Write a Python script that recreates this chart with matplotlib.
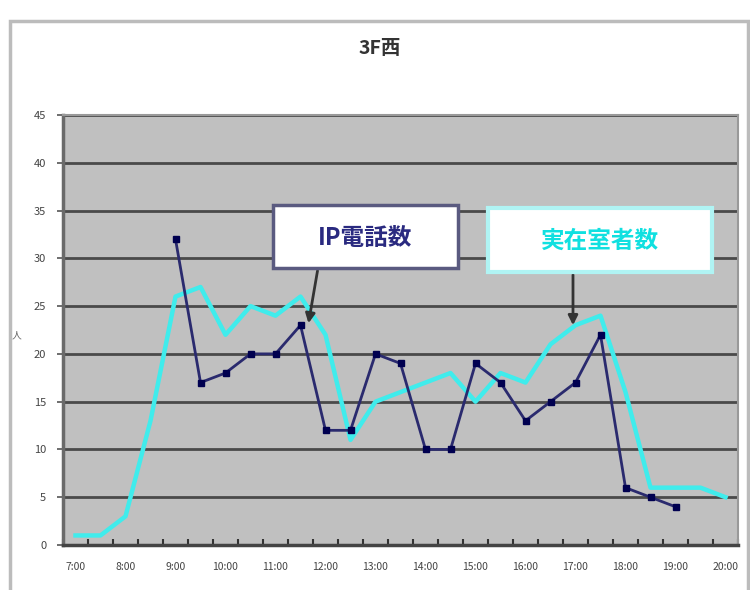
import numpy as np
import matplotlib
matplotlib.use("Agg")
import matplotlib.pyplot as plt
from matplotlib.patches import Rectangle

plt.rcParams['font.family'] = ['Noto Sans CJK JP', 'DejaVu Sans']

times = ["7:00", "7:30", "8:00", "8:30", "9:00", "9:30", "10:00", "10:30", "11:00",
         "11:30", "12:00", "12:30", "13:00", "13:30", "14:00", "14:30", "15:00",
         "15:30", "16:00", "16:30", "17:00", "17:30", "18:00", "18:30", "19:00",
         "19:30", "20:00"]
ip_phone = [np.nan, np.nan, np.nan, np.nan, 32, 17, 18, 20, 20, 23, 12, 12, 20, 19,
            10, 10, 19, 17, 13, 15, 17, 22, 6, 5, 4, np.nan, np.nan]
occupants = [1, 1, 3, 13, 26, 27, 22, 25, 24, 26, 22, 11, 15, 16, 17, 18, 15, 18,
             17, 21, 23, 24, 16, 6, 6, 6, 5]
yticks = [0, 5, 10, 15, 20, 25, 30, 35, 40, 45]
title = "3F西"
label_ip = "IP電話数"
label_occ = "実在室者数"
ylabel = "人"

W, H = 750, 590
fig = plt.figure(figsize=(7.5, 5.9), dpi=100)
fig.patch.set_facecolor('white')

def fx(px):
    return px / W

def fy(py):
    return 1 - py / H

# chart border (extends beyond right/bottom edges)
fig.add_artist(Rectangle((fx(10), fy(600)), fx(748) - fx(10), fy(21) - fy(600),
                         transform=fig.transFigure, fill=False,
                         edgecolor='#bcbcbc', lw=2.5))

ax = fig.add_axes([fx(63), fy(545), fx(738) - fx(63), fy(115) - fy(545)])
ax.set_facecolor('#c0c0c0')
x = np.arange(len(times))

ax.plot(x, occupants, color='#40ecec', lw=3.2, zorder=3, solid_joinstyle='round')
ax.plot(x, ip_phone, color='#2a2a6e', lw=2.0, marker='s', markersize=4.5,
        markerfacecolor='#000050', markeredgecolor='#000050', zorder=4)

ax.set_xlim(-0.5, len(times) - 0.5)
ax.set_ylim(0, 45)
ax.set_yticks(yticks)
ax.set_yticklabels([str(v) for v in yticks], fontsize=8, color='#444444')
ax.yaxis.grid(True, color='#4a4a4a', lw=2.0)
ax.set_axisbelow(True)

# category boundaries as ticks, labels every hour
ax.set_xticks(np.arange(len(times) + 1) - 0.5)
ax.set_xticklabels([])
ax.set_xticks(x[::2], minor=True)
ax.set_xticklabels(times[::2], minor=True, fontsize=7.5, color='#444444')
ax.tick_params(axis='x', which='major', length=4, width=1.5, color='#333333',
               direction='in')
ax.tick_params(axis='x', which='minor', length=0, pad=12)
ax.tick_params(axis='y', length=4, width=1.2, color='#555555', pad=8)

for s in ['top', 'right']:
    ax.spines[s].set_color('#999999')
    ax.spines[s].set_linewidth(1.5)
ax.spines['left'].set_color('#6a6a6a')
ax.spines['left'].set_linewidth(2.5)
ax.spines['bottom'].set_color('#444444')
ax.spines['bottom'].set_linewidth(2.5)

fig.text(fx(380), fy(48), title, ha='center', va='center', fontsize=14,
         fontweight='bold', color='#333333')
fig.text(fx(17), fy(335), ylabel, ha='center', va='center', fontsize=7,
         color='#666666')

# annotation boxes
fig.add_artist(Rectangle((fx(273), fy(268)), fx(458) - fx(273), fy(205) - fy(268),
                         transform=fig.transFigure, facecolor='white',
                         edgecolor='#5a5a80', lw=2.5, zorder=5))
fig.text(fx(365), fy(238), label_ip, ha='center', va='center', fontsize=17,
         fontweight='bold', color='#2a2a80', zorder=6)
fig.add_artist(Rectangle((fx(488), fy(272)), fx(712) - fx(488), fy(208) - fy(272),
                         transform=fig.transFigure, facecolor='white',
                         edgecolor='#b0f4f4', lw=3, zorder=5))
fig.text(fx(600), fy(241), label_occ, ha='center', va='center', fontsize=17,
         fontweight='bold', color='#10e0e0', zorder=6)

ax.annotate('', xy=(fx(308), fy(326)), xytext=(fx(318), fy(268)),
            xycoords='figure fraction', textcoords='figure fraction',
            arrowprops=dict(arrowstyle='-|>', color='#333333', lw=2,
                            mutation_scale=14), zorder=7)
ax.annotate('', xy=(fx(573), fy(328)), xytext=(fx(573), fy(272)),
            xycoords='figure fraction', textcoords='figure fraction',
            arrowprops=dict(arrowstyle='-|>', color='#333333', lw=2,
                            mutation_scale=14), zorder=7)

fig.savefig('out.png', dpi=100)
